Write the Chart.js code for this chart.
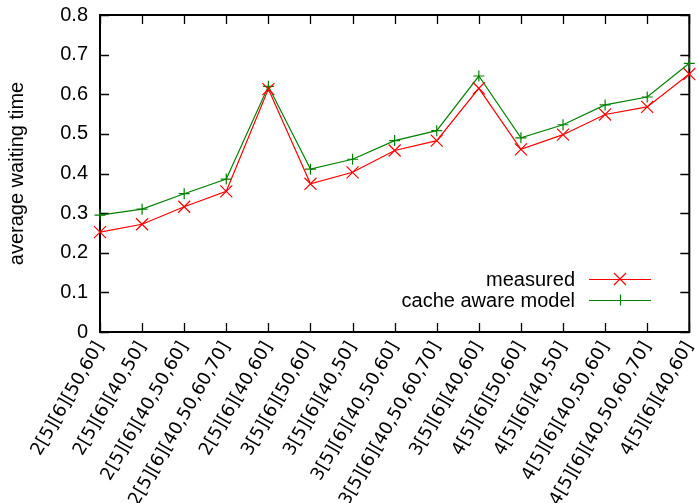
<!DOCTYPE html>
<html>
<head>
<meta charset="utf-8">
<script src="https://cdn.jsdelivr.net/npm/chart.js@4/dist/chart.umd.min.js"></script>
<style>
html,body{margin:0;padding:0;background:#fff;}
#wrap{width:699px;height:503px;}
</style>
</head>
<body>
<div id="wrap"><canvas id="c" width="699" height="503"></canvas></div>
<script>
const categories = ['2[5][6][50,60]','2[5][6][40,50]','2[5][6][40,50,60]','2[5][6][40,50,60,70]','2[5][6][40,60]',
  '3[5][6][50,60]','3[5][6][40,50]','3[5][6][40,50,60]','3[5][6][40,50,60,70]','3[5][6][40,60]',
  '4[5][6][50,60]','4[5][6][40,50]','4[5][6][40,50,60]','4[5][6][40,50,60,70]','4[5][6][40,60]'];
const measured = [0.252,0.272,0.316,0.355,0.613,0.374,0.403,0.458,0.483,0.615,0.461,0.498,0.549,0.568,0.651];
const cacheAwareModel = [0.295,0.310,0.349,0.386,0.620,0.411,0.436,0.483,0.508,0.646,0.490,0.523,0.573,0.593,0.678];
const yTickLabels = ['0','0.1','0.2','0.3','0.4','0.5','0.6','0.7','0.8'];
const seriesNames = ['measured','cache aware model'];

const RED = '#ff0000';
const GREEN = '#008000';
const SANS = "'Liberation Sans', Arial, Helvetica, sans-serif";

const framePlugin = {
  id: 'frame',
  beforeDatasetsDraw(chart) {
    const {ctx, chartArea: a, scales} = chart;
    ctx.save();
    ctx.strokeStyle = '#000';
    ctx.lineWidth = 1.3;
    const tl = 9;
    ctx.beginPath();
    scales.y.ticks.forEach(t => {
      const y = Math.round(scales.y.getPixelForValue(t.value)) + 0.5;
      ctx.moveTo(a.left, y); ctx.lineTo(a.left + tl, y);
      ctx.moveTo(a.right, y); ctx.lineTo(a.right - tl, y);
    });
    categories.forEach((c, i) => {
      const x = Math.round(scales.x.getPixelForValue(i)) + 0.5;
      ctx.moveTo(x, a.bottom); ctx.lineTo(x, a.bottom - tl);
      ctx.moveTo(x, a.top); ctx.lineTo(x, a.top + tl);
    });
    ctx.stroke();
    ctx.lineWidth = 2;
    ctx.strokeRect(a.left, a.top, a.right - a.left, a.bottom - a.top);
    ctx.restore();
  },
  afterDraw(chart) {
    const {ctx} = chart;
    ctx.save();
    ctx.font = '20px ' + SANS;
    ctx.textAlign = 'right';
    ctx.textBaseline = 'middle';
    const rows = [279, 300];
    chart.data.datasets.forEach((ds, i) => {
      const y = rows[i];
      ctx.fillStyle = '#000';
      ctx.fillText(ds.label, 575, y + 1);
      ctx.strokeStyle = ds.borderColor;
      ctx.lineWidth = 1.2;
      ctx.beginPath();
      ctx.moveTo(589, y + 0.5); ctx.lineTo(651, y + 0.5);
      ctx.stroke();
      const r = ds.pointRadius;
      ctx.beginPath();
      if (ds.pointStyle === 'crossRot') {
        const d = r * Math.SQRT1_2;
        ctx.moveTo(620 - d, y - d); ctx.lineTo(620 + d, y + d);
        ctx.moveTo(620 - d, y + d); ctx.lineTo(620 + d, y - d);
      } else {
        ctx.moveTo(620 - r, y + 0.5); ctx.lineTo(620 + r, y + 0.5);
        ctx.moveTo(620.5, y - r); ctx.lineTo(620.5, y + r);
      }
      ctx.stroke();
    });
    ctx.restore();
  }
};

new Chart(document.getElementById('c'), {
  type: 'line',
  data: {
    labels: categories,
    datasets: [
      {label: seriesNames[0], data: measured, borderColor: RED, backgroundColor: RED,
       borderWidth: 1.2, pointStyle: 'crossRot', pointRadius: 8.5, pointBorderWidth: 1.2,
       pointBorderColor: RED, tension: 0, fill: false, clip: false},
      {label: seriesNames[1], data: cacheAwareModel, borderColor: GREEN, backgroundColor: GREEN,
       borderWidth: 1.2, pointStyle: 'cross', pointRadius: 5.5, pointBorderWidth: 1.2,
       pointBorderColor: GREEN, tension: 0, fill: false, clip: false}
    ]
  },
  options: {
    responsive: false,
    animation: false,
    layout: {padding: {top: 15, right: 4, left: 5, bottom: 0}},
    plugins: {legend: {display: false}, tooltip: {enabled: false}},
    scales: {
      x: {
        type: 'category',
        offset: false,
        grid: {display: false, drawTicks: false},
        border: {display: false},
        ticks: {
          autoSkip: false, minRotation: 60, maxRotation: 60, padding: 6,
          color: '#000', font: {family: "'DejaVu Sans', sans-serif", size: 18}
        },
        afterFit(s) { s.height = 171; s.paddingLeft = 0; s.paddingRight = 0; }
      },
      y: {
        min: 0, max: 0.8,
        grid: {display: false, drawTicks: false},
        border: {display: false},
        ticks: {
          stepSize: 0.1, padding: 12, color: '#000',
          font: {family: SANS, size: 20},
          callback: (v, i) => yTickLabels[i]
        },
        title: {display: true, text: 'average waiting time', color: '#000',
                font: {family: SANS, size: 20}, padding: {top: 0, bottom: 0}},
        afterFit(s) { s.width = 95; s.paddingTop = 0; s.paddingBottom = 0; }
      }
    }
  },
  plugins: [framePlugin]
});
</script>
</body>
</html>
